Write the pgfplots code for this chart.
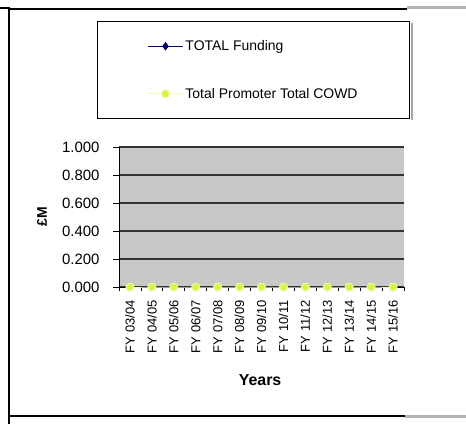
\documentclass[border=0pt]{standalone}
\usepackage{pgfplots}
\pgfplotsset{compat=1.18}
\usepackage{fontspec}
\setmainfont{Liberation Sans}
\definecolor{plotbg}{RGB}{200,200,200}
\definecolor{navyc}{RGB}{0,0,110}
\definecolor{ygreen}{RGB}{222,242,70}
\begin{document}
\begin{tikzpicture}[x=1bp,y=1bp]
\useasboundingbox (0,0) rectangle (466,424);
% outer frame
\draw[line width=1.4bp,black] (0,416) -- (9,416) -- (9,0);
\draw[line width=1.4bp,black] (9,415) -- (407,415);
\draw[line width=2.5bp,black!30] (407,416.5) -- (466,416.5);
\draw[line width=1.4bp,black] (9,8) -- (405,8);
\draw[line width=2.5bp,black!30] (405,7.5) -- (466,7.5);
\draw[line width=2bp,black!35] (412,401) -- (412,304);
\begin{axis}[
  at={(119bp,137bp)}, anchor=south west,
  scale only axis, width=285bp, height=140bp,
  xmin=-0.5, xmax=12.5, ymin=0, ymax=1,
  axis lines=left, axis line style={-, black, line width=1bp},
  axis background/.style={fill=plotbg},
  ytick={0,0.2,...,1.0},
  /pgf/number format/assume math mode=true,
  yticklabel style={/pgf/number format/fixed, /pgf/number format/fixed zerofill, /pgf/number format/precision=3},
  yticklabel style={font=\fontsize{15}{17}\selectfont, xshift=-10bp},
  ymajorgrids, grid style={black!80, line width=1.2bp},
  xtick={0,...,12},
  xticklabels={FY 03/04,FY 04/05,FY 05/06,FY 06/07,FY 07/08,FY 08/09,FY 09/10,FY 10/11,FY 11/12,FY 12/13,FY 13/14,FY 14/15,FY 15/16},
  xticklabel style={rotate=90, anchor=east, font=\fontsize{13}{15}\selectfont, xshift=-4bp},
  major x tick style={draw=none},
  minor xtick={-0.5,0.5,...,12.5},
  minor tick length=4bp,
  minor x tick style={black, line width=0.8bp},
  tick align=outside,
  major tick length=6bp,
  major y tick style={black, line width=1bp},
  ylabel={£M}, ylabel style={font=\bfseries\fontsize{14}{16}\selectfont, at={(axis description cs:-0.27,0.5)}, anchor=center},
  xlabel={Years}, xlabel style={font=\bfseries\fontsize{16}{18}\selectfont, at={(axis description cs:0.495,-0.664)}, anchor=center},
  legend style={at={(axis description cs:0.472,1.55)}, anchor=center,
    draw=black, line width=1.2bp, fill=white,
    inner xsep=50bp, inner ysep=17bp,
    row sep=32bp, font=\fontsize{14}{16}\selectfont,
    legend cell align=left},
  legend image code/.code={\draw[mark repeat=2,mark phase=2,#1] plot coordinates {(0bp,0bp) (17.5bp,0bp) (35bp,0bp)};},
  clip=false,
]
\addplot[navyc, line width=1bp, mark=diamond*, mark size=3.5bp, mark options={fill=navyc}] coordinates {
(0,0) (1,0) (2,0) (3,0) (4,0) (5,0) (6,0) (7,0) (8,0) (9,0) (10,0) (11,0) (12,0)};
\addlegendentry{TOTAL Funding}
\addplot[ygreen!40, line width=1bp, mark=*, mark size=4bp, mark options={fill=ygreen, draw=ygreen!50}] coordinates {
(0,0) (1,0) (2,0) (3,0) (4,0) (5,0) (6,0) (7,0) (8,0) (9,0) (10,0) (11,0) (12,0)};
\addlegendentry{Total Promoter Total COWD}
\end{axis}
\end{tikzpicture}
\end{document}
